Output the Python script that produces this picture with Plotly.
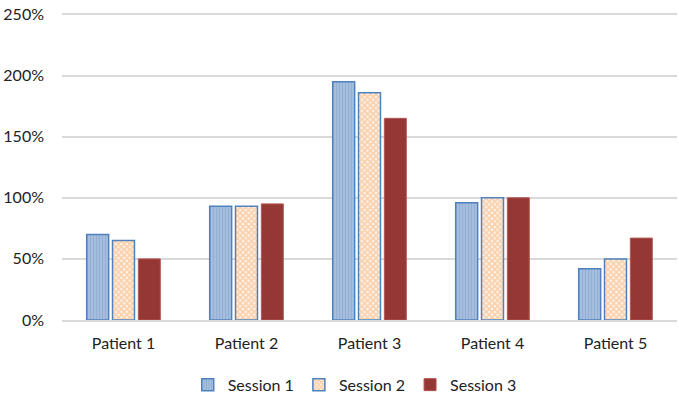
import plotly.graph_objects as go

categories = ["Patient 1", "Patient 2", "Patient 3", "Patient 4", "Patient 5"]
session1 = [0.70, 0.93, 1.95, 0.96, 0.42]
session2 = [0.65, 0.93, 1.86, 1.00, 0.50]
session3 = [0.50, 0.95, 1.65, 1.00, 0.67]
tick_vals = [0, 0.5, 1.0, 1.5, 2.0, 2.5]
tick_text = ["0%", "50%", "100%", "150%", "200%", "250%"]

fig = go.Figure()
fig.add_trace(go.Bar(
    name="Session 1", x=categories, y=session1,
    marker=dict(color="#95B3D7", line=dict(color="#4F81BD", width=1.5),
                pattern=dict(shape="|", fgcolor="#7E9FCB", bgcolor="#A7C0DE", size=3, solidity=0.4)),
))
fig.add_trace(go.Bar(
    name="Session 2", x=categories, y=session2,
    marker=dict(color="white", line=dict(color="#4F81BD", width=1.5),
                pattern=dict(shape="x", fgcolor="#F5A96A", bgcolor="#FFF6EE", size=4, solidity=0.7)),
))
fig.add_trace(go.Bar(
    name="Session 3", x=categories, y=session3,
    marker=dict(color="#953735", line=dict(color="#B45553", width=1)),
))

fig.update_layout(
    width=679, height=397,
    margin=dict(l=62, r=2, t=12, b=77, autoexpand=False),
    paper_bgcolor="white", plot_bgcolor="white",
    barmode="group", bargap=0.37, bargroupgap=0.15,
    font=dict(family="Lato, Open Sans, sans-serif", size=16, color="#222222"),
    showlegend=True,
    legend=dict(orientation="h", x=0.476, xanchor="center", y=-0.155, yanchor="top",
                font=dict(size=16), itemwidth=30),
    xaxis=dict(showgrid=False, showline=True, linecolor="#D9D9D9", linewidth=1.5,
               ticks="", tickfont=dict(size=16), ticklabelstandoff=8),
    yaxis=dict(range=[0, 2.52], tickvals=tick_vals, ticktext=tick_text,
               showgrid=True, gridcolor="#D9D9D9", gridwidth=1.5, zeroline=False,
               showline=False, ticks="", tickfont=dict(size=16), ticklabelstandoff=17),
)

fig.write_html("out.html", config={"displayModeBar": False},
               post_script="document.body.style.margin='0';")
